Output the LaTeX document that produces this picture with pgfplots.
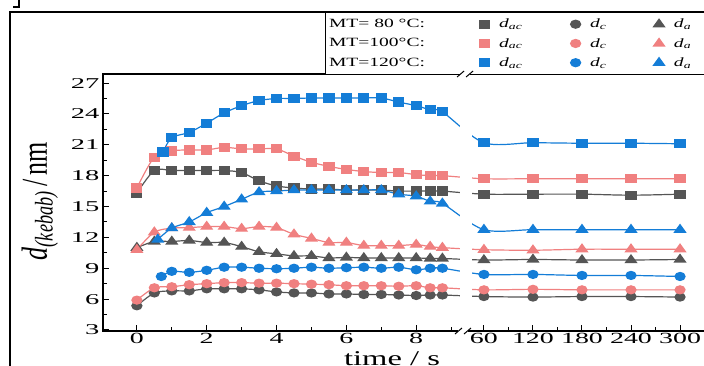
\documentclass[border=0pt]{standalone}
\usepackage{fontspec}
\setmainfont{Liberation Serif}[FakeStretch=1.55]
\newfontfamily\yfont{Liberation Serif}[FakeStretch=1.9]
\newfontfamily\xfont{Liberation Serif}[FakeStretch=1.8]
\newfontfamily\plainfont{Liberation Serif}
\usepackage{pgfplots}
\usepackage{pgfplotstable}
\pgfplotsset{compat=1.18}
\definecolor{cg}{RGB}{85,85,85}
\definecolor{cp}{RGB}{240,128,128}
\definecolor{cb}{RGB}{20,125,215}

% MT = 80 C
\pgfplotstableread{
t ac c a
0 16.3 5.35 11.0
0.5 18.5 6.6 11.6
1 18.5 6.8 11.6
1.5 18.5 6.8 11.7
2 18.5 7.0 11.5
2.5 18.5 7.0 11.5
3 18.3 7.0 11.1
3.5 17.5 6.9 10.6
4 17.0 6.7 10.4
4.5 16.8 6.6 10.2
5 16.7 6.6 10.2
5.5 16.7 6.5 10.0
6 16.6 6.5 10.05
6.5 16.6 6.45 10.0
7 16.6 6.45 10.0
7.5 16.5 6.4 10.0
8 16.5 6.35 10.0
8.4 16.5 6.4 9.95
8.75 16.5 6.4 9.95
60 16.2 6.25 9.8
120 16.2 6.2 9.85
180 16.2 6.25 9.8
240 16.1 6.25 9.8
300 16.2 6.2 9.85
}\tgray
% MT = 100 C
\pgfplotstableread{
t ac c a
0 16.8 5.9 10.8
0.5 19.8 7.1 12.5
1 20.4 7.2 12.9
1.5 20.5 7.4 12.95
2 20.5 7.5 13.05
2.5 20.75 7.6 13.05
3 20.6 7.6 12.85
3.5 20.6 7.55 13.05
4 20.6 7.55 12.95
4.5 19.9 7.5 12.3
5 19.3 7.45 11.9
5.5 18.9 7.4 11.5
6 18.6 7.3 11.5
6.5 18.4 7.3 11.2
7 18.3 7.3 11.2
7.5 18.3 7.25 11.2
8 18.1 7.3 11.3
8.4 18.0 7.1 11.1
8.75 18.0 7.1 11.0
60 17.7 6.9 10.8
120 17.7 6.95 10.75
180 17.7 6.9 10.85
240 17.7 6.9 10.85
300 17.7 6.9 10.85
}\tpink
% MT = 120 C
\pgfplotstableread{
t ac c a
0.6 nan nan 11.8
0.7 nan 8.2 nan
0.75 20.3 nan nan
1 21.7 8.7 12.9
1.5 22.2 8.6 13.5
2 23.1 8.8 14.4
2.5 24.1 9.1 15.0
3 24.8 9.1 15.7
3.5 25.3 9.0 16.4
4 25.5 8.95 16.5
4.5 25.5 9.0 16.6
5 25.55 9.1 16.6
5.5 25.55 9.0 16.6
6 25.55 9.05 16.6
6.5 25.55 9.1 16.6
7 25.55 9.0 16.6
7.5 25.15 9.1 16.2
8 24.8 8.85 16.0
8.4 24.4 9.0 15.5
8.75 24.2 9.0 15.3
60 21.2 8.4 12.75
120 21.2 8.4 12.75
180 21.15 8.3 12.75
240 21.15 8.3 12.75
300 21.1 8.2 12.75
}\tblue

\begin{document}
\begin{tikzpicture}
\begin{axis}[
  at={(103pt,34pt)}, anchor=south west,
  scale only axis, width=603pt, height=257pt,
  xmin=-0.97, xmax=16.30, ymin=2.9, ymax=27.88,
  axis on top,
  x filter/.expression={x>30 ? 9.94+(x-60)*0.0234 : x},
  xtick={0,2,4,6,8,9.94,11.344,12.748,14.152,15.556},
  xticklabels={0,2,4,6,8,60,120,180,240,300},
  minor xtick={1,3,5,7,9,10.642,12.046,13.45,14.854},
  ytick={3,6,...,27},
  minor ytick={4.5,7.5,...,25.5},
  xtick pos=bottom, ytick pos=left,
  tick align=inside,
  major tick length=6pt, minor tick length=4pt,
  tick style={line width=1pt, black},
  axis line style={line width=1.3pt},
  /pgf/number format/assume math mode=true,
  xticklabel style={font=\xfont\fontsize{15.5}{15.5}\selectfont, yshift=1.5pt},
  yticklabel style={font=\yfont\fontsize{15}{15}\selectfont},
  legend columns=4,
  legend cell align=left,
  legend style={at={(0.3682,1.2412)}, anchor=north west, draw=black, line width=1.2pt,
    fill=white, font=\fontsize{12.6}{14}\selectfont, inner xsep=2pt, inner ysep=5pt,
    row sep=6pt, nodes={inner sep=1.5pt}},
  every axis plot/.append style={line width=1.2pt, smooth, tension=0.5, mark size=4pt,
    mark options={solid, xscale=1.25}},
]
\addplot[cg, mark=square*, forget plot] table[x=t,y=ac]{\tgray};
\addplot[cg, mark=*, forget plot] table[x=t,y=c]{\tgray};
\addplot[cg, mark=triangle*, mark size=5pt, forget plot] table[x=t,y=a]{\tgray};
\addplot[cp, mark=square*, forget plot] table[x=t,y=ac]{\tpink};
\addplot[cp, mark=*, forget plot] table[x=t,y=c]{\tpink};
\addplot[cp, mark=triangle*, mark size=5pt, forget plot] table[x=t,y=a]{\tpink};
\addplot[cb, mark=square*, forget plot] table[x=t,y=ac]{\tblue};
\addplot[cb, mark=*, forget plot] table[x=t,y=c]{\tblue};
\addplot[cb, mark=triangle*, mark size=5pt, forget plot] table[x=t,y=a]{\tblue};

\fill[white] (axis cs:9.25,2.95) rectangle (axis cs:9.6,27.83);

\addlegendimage{empty legend}
\addlegendentry{\makebox[149pt][l]{MT=\ 80\ \textdegree C:}}
\addlegendimage{only marks, mark=square*, cg, mark size=4pt, mark options={xscale=1.25}}
\addlegendentry{\makebox[78pt][l]{\hspace*{8pt}\textit{d}\textsubscript{\textit{ac}}}}
\addlegendimage{only marks, mark=*, cg, mark size=4pt, mark options={xscale=1.25}}
\addlegendentry{\makebox[70pt][l]{\hspace*{8pt}\textit{d}\textsubscript{\textit{c}}}}
\addlegendimage{only marks, mark=triangle*, cg, mark size=5pt, mark options={xscale=1.25}}
\addlegendentry{\makebox[40pt][l]{\hspace*{8pt}\textit{d}\textsubscript{\textit{a}}}}
\addlegendimage{empty legend}
\addlegendentry{\makebox[149pt][l]{MT=100\textdegree C:}}
\addlegendimage{only marks, mark=square*, cp, mark size=4pt, mark options={xscale=1.25}}
\addlegendentry{\makebox[78pt][l]{\hspace*{8pt}\textit{d}\textsubscript{\textit{ac}}}}
\addlegendimage{only marks, mark=*, cp, mark size=4pt, mark options={xscale=1.25}}
\addlegendentry{\makebox[70pt][l]{\hspace*{8pt}\textit{d}\textsubscript{\textit{c}}}}
\addlegendimage{only marks, mark=triangle*, cp, mark size=5pt, mark options={xscale=1.25}}
\addlegendentry{\makebox[40pt][l]{\hspace*{8pt}\textit{d}\textsubscript{\textit{a}}}}
\addlegendimage{empty legend}
\addlegendentry{\makebox[149pt][l]{MT=120\textdegree C:}}
\addlegendimage{only marks, mark=square*, cb, mark size=4pt, mark options={xscale=1.25}}
\addlegendentry{\makebox[78pt][l]{\hspace*{8pt}\textit{d}\textsubscript{\textit{ac}}}}
\addlegendimage{only marks, mark=*, cb, mark size=4pt, mark options={xscale=1.25}}
\addlegendentry{\makebox[70pt][l]{\hspace*{8pt}\textit{d}\textsubscript{\textit{c}}}}
\addlegendimage{only marks, mark=triangle*, cb, mark size=5pt, mark options={xscale=1.25}}
\addlegendentry{\makebox[40pt][l]{\hspace*{8pt}\textit{d}\textsubscript{\textit{a}}}}

\coordinate (bb) at (axis cs:9.34,2.9);
\coordinate (bt) at (axis cs:9.40,27.88);
\end{axis}
% axis break marks
\foreach \p in {bb,bt}{
  \fill[white] ([xshift=-5pt,yshift=-2.5pt]\p) rectangle ([xshift=5pt,yshift=2.5pt]\p);
  \draw[line width=1pt] ([xshift=-8pt,yshift=-3pt]\p) -- ([xshift=-1pt,yshift=3pt]\p);
  \draw[line width=1pt] ([xshift=1pt,yshift=-3pt]\p) -- ([xshift=8pt,yshift=3pt]\p);
}
% axis titles
\node[rotate=90, yscale=1.4, anchor=base, font=\plainfont\fontsize{26}{28}\selectfont]
  at (47pt,164pt) {\textit{d}\textsubscript{\textit{(kebab)}}\,/\,nm};
\node[anchor=base, font=\fontsize{21}{24}\selectfont] at (392pt,0pt) {time / s};
% outer frame
\draw[line width=2pt] (10pt,-5pt) -- (10pt,353pt) -- (720pt,353pt);
\draw[line width=1.5pt] (13pt,358pt) -- (19pt,358pt) -- (19pt,366pt);
\pgfresetboundingbox
\useasboundingbox (0,0) rectangle (704pt,365pt);
\end{tikzpicture}
\end{document}
